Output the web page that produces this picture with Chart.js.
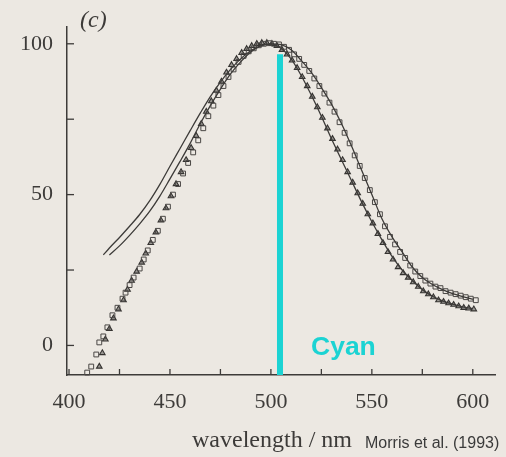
<!DOCTYPE html>
<html>
<head>
<meta charset="utf-8">
<script src="https://cdn.jsdelivr.net/npm/chart.js@4.4.1/dist/chart.umd.min.js"></script>
<style>
  html, body { margin: 0; padding: 0; background: #ece8e2; }
</style>
</head>
<body>
<canvas id="chart" width="506" height="457"></canvas>
<script>
/* Morris et al. (1993) panel (c) — spectral sensitivity, with cyan marker */

// ── Data ──────────────────────────────────────────────────────────────────
const xTicks = [400, 425, 450, 475, 500, 525, 550, 575, 600];
const yTicks = [0, 25, 50, 75, 100];

// upper solid curve
const lineAx = [417, 420, 425, 430, 435, 440, 445, 450, 455, 460, 465, 470, 475, 480, 485, 490, 495, 500,
                505, 510, 515, 520, 525, 530, 535, 540, 545, 550, 555, 560, 565, 570, 575, 580, 585, 590, 595, 600];
const lineAy = [30, 32.3, 35.8, 39.5, 43.4, 48, 53.4, 59.4, 65.3, 71.2, 77, 82.5, 87.3, 91.5, 95, 97.7, 99.4, 100,
                98.5, 95, 89.5, 83, 76, 68.5, 61.5, 54.5, 47.5, 41, 35, 29.5, 25, 21.5, 18.5, 16.3, 14.8, 13.7, 12.8, 12.2];

// lower solid curve
const lineBx = [420, 425, 430, 435, 440, 445, 450, 455, 460, 465, 470, 475, 480, 485, 490, 495, 500,
                505, 510, 515, 520, 525, 530, 535, 540, 545, 550, 555, 560, 565, 570, 575, 580, 585, 590, 595, 600];
const lineBy = [30, 33, 36.5, 40.3, 44.5, 49.5, 55.2, 61, 67, 73.5, 79.5, 85, 90, 94, 97.3, 99.3, 100,
                99.7, 98, 94.5, 90.5, 85.5, 80, 73.5, 66, 58, 50, 42, 36, 31, 26, 22.5, 20.2, 18.5, 17.2, 16.2, 15.3];

// open squares
const squareX = [409, 411, 413.5, 415, 417, 419, 421.5, 424, 426.5, 428, 430, 432, 435, 437, 439, 441.5, 444, 446.5, 449,
                 451.5, 454, 456.5, 459, 461.5, 464, 466.5, 469, 471.5, 474, 476.5, 479, 481.5, 484, 486.5, 489, 491.5,
                 494, 496.5, 499, 501.5, 504, 506.5, 509, 511.5, 514, 516.5, 519, 521.5, 524, 526.5, 529, 531.5, 534,
                 536.5, 539, 541.5, 544, 546.5, 549, 551.5, 554, 556.5, 559, 561.5, 564, 566.5, 569, 571.5, 574, 576.5,
                 579, 581.5, 584, 586.5, 589, 591.5, 594, 596.5, 599, 601.5];
const squareY = [-9, -7, -3, 1, 3, 6, 10, 12.5, 15.5, 17.5, 20, 22.5, 25.5, 28.5, 31.5, 35, 38, 42, 46,
                 50, 53.5, 57, 60.5, 64, 68, 72, 76, 79.5, 83, 86, 89, 91.5, 94, 96, 97.5, 98.5,
                 99.5, 100, 100.2, 100, 99.8, 99, 98, 96.5, 95, 93, 91, 88.5, 86, 83.5, 80.5, 77.5, 74,
                 70.5, 67, 63, 59.5, 55.5, 51.5, 47.5, 43.5, 39.5, 36, 33.5, 31, 29, 26.5, 24.5, 23, 21.5,
                 20.5, 19.5, 19, 18, 17.5, 17, 16.5, 16, 15.5, 15];

// triangles
const triX = [415, 416.5, 418, 420, 422, 424.5, 427, 429, 431, 433.5, 436, 438, 440.5, 443, 445.5, 448, 450.5, 453,
              455.5, 458, 460.5, 463, 465.5, 468, 470.5, 473, 475.5, 478, 480.5, 483, 485.5, 488, 490.5, 493, 495.5,
              498, 500.5, 503, 505.5, 508, 510.5, 513, 515.5, 518, 520.5, 523, 525.5, 528, 530.5, 533, 535.5, 538,
              540.5, 543, 545.5, 548, 550.5, 553, 555.5, 558, 560.5, 563, 565.5, 568, 570.5, 573, 575.5, 578, 580.5,
              583, 585.5, 588, 590.5, 593, 595.5, 598, 600.5];
const triY = [-7, -2.5, 2, 5.5, 9, 12, 15, 18.5, 21.5, 24.5, 27.5, 30.5, 34, 37.5, 41.5, 45.5, 49.5, 53.5,
              57.5, 61.5, 65.5, 69.5, 73.5, 77.5, 81, 84.5, 87.5, 90.5, 93, 95, 97, 98.3, 99.3, 100, 100.3,
              100.3, 100, 99.3, 98, 96.5, 94.5, 92, 89, 86, 82.5, 79, 75.5, 72, 68.5, 65, 61.5, 57.5,
              54, 50.5, 47, 43.5, 40.5, 37, 34, 31, 28.5, 26, 24, 22.5, 21, 19.5, 18, 17, 16,
              15, 14.5, 14, 13.5, 13, 12.5, 12.3, 12];

// cyan wavelength marker
const cyanX = [504.5, 504.5];
const cyanY = [-9.8, 96.5];

// ── Helpers ───────────────────────────────────────────────────────────────
const pts = (xs, ys) => xs.map((x, i) => ({ x, y: ys[i] }));
const INK  = '#3d3b39';
const CYAN = '#1cd3d3';
const SERIF = '"Liberation Serif", "DejaVu Serif", serif';
const SANS  = '"Liberation Sans", Arial, sans-serif';

const decor = {
    id: 'decor',
    beforeDraw(chart) {
        const c = chart.ctx;
        c.save();
        c.fillStyle = '#ece8e2';
        c.fillRect(0, 0, chart.width, chart.height);
        c.restore();
    },
    afterDraw(chart) {
        const c = chart.ctx;
        const { left, bottom } = chart.chartArea;
        const xs = chart.scales.x, ys = chart.scales.y;
        c.save();
        c.strokeStyle = INK;
        c.lineWidth = 1.3;
        // inward tick marks
        xTicks.forEach(v => {
            const px = xs.getPixelForValue(v);
            c.beginPath(); c.moveTo(px, bottom); c.lineTo(px, bottom - 6); c.stroke();
        });
        yTicks.forEach(v => {
            const py = ys.getPixelForValue(v);
            c.beginPath(); c.moveTo(left, py); c.lineTo(left + 7, py); c.stroke();
        });
        // text
        c.fillStyle = INK;
        c.textBaseline = 'alphabetic';
        c.font = `italic 24px ${SERIF}`;
        c.fillText('(c)', 80, 27);
        c.font = `24px ${SERIF}`;
        c.fillText('wavelength / nm', 192, 447);
        c.font = `16px ${SANS}`;
        c.fillStyle = '#3a3a3a';
        c.fillText('Morris et al. (1993)', 365, 448);
        c.font = `bold 26.5px ${SANS}`;
        c.fillStyle = CYAN;
        c.fillText('Cyan', 311, 355);
        c.restore();
    }
};

// ── Chart ─────────────────────────────────────────────────────────────────
const ctx = document.getElementById('chart').getContext('2d');
new Chart(ctx, {
    type: 'scatter',
    data: {
        datasets: [
            {
                label: 'Cyan', data: pts(cyanX, cyanY), showLine: true,
                borderColor: CYAN, borderWidth: 6, pointRadius: 0, order: 0, clip: false
            },
            {
                label: 'fit A', data: pts(lineAx, lineAy), showLine: true, cubicInterpolationMode: 'monotone',
                borderColor: INK, borderWidth: 1.3, pointRadius: 0, order: 1
            },
            {
                label: 'fit B', data: pts(lineBx, lineBy), showLine: true, cubicInterpolationMode: 'monotone',
                borderColor: INK, borderWidth: 1.3, pointRadius: 0, order: 2
            },
            {
                label: 'squares', data: pts(squareX, squareY), showLine: false,
                pointStyle: 'rect', pointRadius: 3.4, borderColor: '#4a4745', borderWidth: 1,
                backgroundColor: 'transparent', order: 3, clip: false
            },
            {
                label: 'triangles', data: pts(triX, triY), showLine: false,
                pointStyle: 'triangle', pointRadius: 3.2, borderColor: '#353331', borderWidth: 1.1,
                backgroundColor: 'rgba(55,53,51,0.45)', order: 4, clip: false
            }
        ]
    },
    plugins: [decor],
    options: {
        responsive: false,
        animation: false,
        events: [],
        layout: { padding: { top: 25, right: 11, left: 0, bottom: 0 } },
        plugins: { legend: { display: false }, tooltip: { enabled: false } },
        scales: {
            x: {
                type: 'linear', min: 399, max: 611,
                afterBuildTicks: s => { s.ticks = xTicks.map(v => ({ value: v })); },
                afterFit: s => { s.height = 82; },
                grid: { display: true, drawOnChartArea: false, drawTicks: false },
                border: { display: true, color: INK, width: 1.5 },
                ticks: {
                    color: INK, padding: 14, maxRotation: 0, autoSkip: false,
                    font: { family: SERIF, size: 22 },
                    callback: v => (v % 50 === 0 ? String(v) : '')
                }
            },
            y: {
                type: 'linear', min: -9.8, max: 105.5,
                afterBuildTicks: s => { s.ticks = yTicks.map(v => ({ value: v })); },
                afterFit: s => { s.width = 67; },
                grid: { display: true, drawOnChartArea: false, drawTicks: false },
                border: { display: true, color: INK, width: 1.5 },
                ticks: {
                    color: INK, padding: 14, autoSkip: false,
                    font: { family: SERIF, size: 22 },
                    callback: v => (v % 50 === 0 ? String(v) : '')
                }
            }
        }
    }
});
</script>
</body>
</html>
